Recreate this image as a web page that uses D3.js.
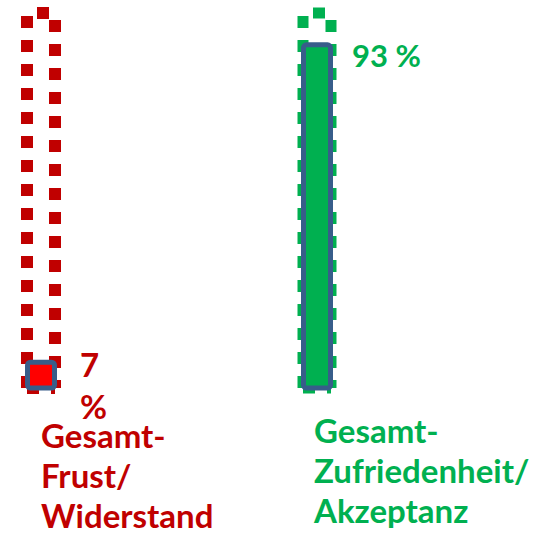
<!DOCTYPE html>
<html>
<head>
<meta charset="utf-8">
<script src="https://cdn.jsdelivr.net/npm/d3@7"></script>
<style>
  html, body { margin: 0; padding: 0; background: #ffffff; }
  svg { display: block; }
</style>
</head>
<body>
<script>
// ---- data ----
const categories = ["Gesamt-Frust/Widerstand", "Gesamt-Zufriedenheit/Akzeptanz"];
const labelLines = [["Gesamt-", "Frust/", "Widerstand"], ["Gesamt-", "Zufriedenheit/", "Akzeptanz"]];
const values = [7, 93];
const totals = [100, 100];
const valueLabels = [["7", "%"], ["93 %"]];

// ---- styles / layout ----
const textColors = ["#C00000", "#00B050"];
const outlineColors = ["#C00000", "#00B050"];
const outlineWidths = [12, 11];
const fillColors = ["#FF0000", "#00B050"];
const barStroke = "#385D8A";
const valueFontSizes = [33, 31];
const valueLabelDy = [15, 22];
const valueLabelDx = [39, 35];
const catLabelDy = [2, -3];
const catLabelDx = [0, -3];
const FONT = "Lato, 'Open Sans', sans-serif";

const W = 539, H = 537;
const svg = d3.select("body").append("svg").attr("width", W).attr("height", H);

const x = d3.scalePoint().domain(categories).range([41, 317]);
const y = d3.scaleLinear().domain([0, 100]).range([388, 19]);

const outlineHalf = 14, barW = 27, framePad = 6;

const g = svg.selectAll("g.cat").data(categories).join("g").attr("class", "cat");

// dotted outline (100 %) drawn as four dotted sides
g.each(function(d, i) {
  const L = x(d) - outlineHalf, R = x(d) + outlineHalf;
  const T = y(totals[i]) - framePad, B = y(0);
  const sides = [
    { x1: L, y1: T, x2: R, y2: T, off: 14 },
    { x1: R, y1: T, x2: R, y2: B, off: 17 },
    { x1: L, y1: T, x2: L, y2: B, off: 21 },
    { x1: L, y1: B, x2: R, y2: B, off: 0 }
  ];
  d3.select(this).selectAll("line.frame").data(sides).join("line")
    .attr("class", "frame")
    .attr("x1", s => s.x1).attr("y1", s => s.y1)
    .attr("x2", s => s.x2).attr("y2", s => s.y2)
    .attr("stroke", outlineColors[i])
    .attr("stroke-width", outlineWidths[i])
    .attr("stroke-dasharray", "12 12")
    .attr("stroke-dashoffset", s => s.off);
});

// value bar
g.append("rect")
  .attr("x", d => x(d) - barW / 2)
  .attr("y", (d, i) => y(values[i]))
  .attr("width", barW)
  .attr("height", (d, i) => y(0) - y(values[i]))
  .attr("rx", 3)
  .attr("fill", (d, i) => fillColors[i])
  .attr("stroke", barStroke)
  .attr("stroke-width", 5);

// value labels
g.each(function(d, i) {
  const t = d3.select(this).append("text")
    .attr("font-family", FONT)
    .attr("font-weight", "bold")
    .attr("font-size", valueFontSizes[i])
    .attr("fill", textColors[i]);
  valueLabels[i].forEach((line, k) => {
    t.append("tspan")
      .attr("x", x(d) + valueLabelDx[i])
      .attr("y", y(values[i]) + valueLabelDy[i] + k * 42)
      .text(line);
  });
});

// category labels
g.each(function(d, i) {
  const t = d3.select(this).append("text")
    .attr("font-family", FONT)
    .attr("font-weight", "bold")
    .attr("font-size", 33)
    .attr("fill", textColors[i]);
  labelLines[i].forEach((line, k) => {
    t.append("tspan")
      .attr("x", x(d) + catLabelDx[i])
      .attr("y", 446 + catLabelDy[i] + k * 40)
      .text(line);
  });
});
</script>
</body>
</html>
